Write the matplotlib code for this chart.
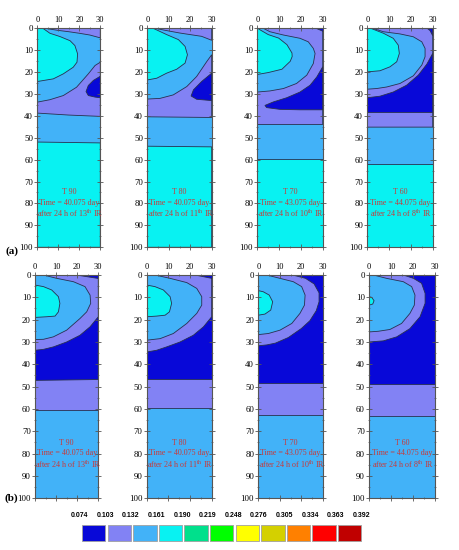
import matplotlib
matplotlib.use("Agg")
import matplotlib.pyplot as plt
from matplotlib.ticker import MultipleLocator

plt.rcParams['font.family'] = ['Liberation Serif', 'DejaVu Serif']
plt.rcParams['mathtext.fontset'] = 'custom'
plt.rcParams['mathtext.rm'] = 'Liberation Serif'

# contour levels and colours of the legend
LEVELS = [0.074, 0.103, 0.132, 0.161, 0.190, 0.219, 0.248, 0.276, 0.305, 0.334, 0.363, 0.392]
COLORS = ['#0808d8', '#8282f4', '#42b2f8', '#08f2f2', '#00e08c', '#00ff00',
          '#ffff00', '#d4d000', '#ff8000', '#ff0000', '#c00000']

# panel captions
T_LABELS = ["T 90", "T 80", "T 70", "T 60"]
DAYS = ["40.075", "40.075", "43.075", "44.075"]
IR_NUM = ["13", "11", "10", "8"]

# each layer: (colour index, x values, depth values) -> closed region, drawn in order
a1_layers = [
    (2, [0, 30, 30, 0], [0, 0, 100, 100]),
    (3, [0, 30, 30, 0], [52, 52.4, 100, 100]),
    (1, [0, 6, 12.4, 18.7, 24.3, 27.5, 30, 30, 15, 0],
        [33.8, 32.7, 30.8, 27, 20.9, 17.1, 15.6, 40.3, 39.7, 38.8]),
    (1, [2.9, 30, 30, 25, 20, 15, 10, 6], [0, 0, 4.5, 3.2, 2.4, 1.7, 1.1, 0.5]),
    (0, [30, 26.7, 24.3, 23.2, 24.3, 27.5, 30], [22, 23.9, 26.2, 29, 30.8, 31.5, 31.8]),
    (3, [0, 2.9, 6, 10.8, 15.6, 17.9, 19.2, 18.9, 17.1, 12.4, 7.6, 0],
        [0, 0.3, 2.4, 3.9, 5.8, 8, 11.8, 15.6, 17.9, 20.9, 23.2, 24.4]),
]
a2_layers = [
    (2, [0, 30, 30, 0], [0, 0, 100, 100]),
    (3, [0, 30, 30, 0], [53.9, 54.2, 100, 100]),
    (1, [0, 5.9, 12.1, 18.4, 23, 27.7, 30, 30, 0],
        [32.4, 32.1, 30.5, 26.7, 22.1, 15.3, 12.2, 40.8, 40.5]),
    (1, [3.1, 30, 30, 25.3, 15.2, 8], [0, 0, 5.6, 3.8, 2.3, 1.0]),
    (0, [30, 25.3, 21.5, 20.4, 23, 30], [20.6, 24.4, 28.2, 31, 32.5, 33.1]),
    (3, [0, 3.1, 9, 14.5, 17.6, 18.7, 17.6, 13.7, 9, 4.4, 0],
        [0, 0.3, 3, 5.3, 8.4, 12.2, 16, 18.8, 20.6, 22.9, 23.7]),
]
a3_layers = [
    (2, [0, 30, 30, 0], [0, 0, 100, 100]),
    (3, [0, 30, 30, 0], [59.7, 59.7, 100, 100]),
    (1, [2.5, 30, 30, 0, 0, 5.8, 12, 18, 22.7, 25.7, 26.5, 25.7, 23.4, 19.6, 12, 5.8],
        [0, 0, 44, 44, 29.2, 28.7, 27.6, 25.3, 21.5, 16.2, 11.6, 9.3, 6.3, 4.7, 3.2, 1.7]),
    (0, [30, 27.3, 24.2, 19.6, 13.5, 7.4, 3.5, 4.3, 10.4, 19.6, 30],
        [17.7, 22.3, 26.1, 29.2, 31.8, 33.7, 35.3, 36.3, 37.1, 37.3, 37.3]),
    (0, [27, 30, 30], [0, 0, 1.2]),
    (3, [0, 1.2, 5, 9.8, 13.6, 15.9, 16, 15.1, 11.3, 5.1, 0],
        [0, 0.8, 3, 4.6, 7.6, 11.4, 13, 15.2, 18.8, 20.3, 21.2]),
]
a4_layers = [
    (2, [0, 30, 30, 0], [0, 0, 100, 100]),
    (3, [0, 30, 30, 0], [62.2, 62.2, 100, 100]),
    (1, [2, 30, 30, 0, 0, 4.3, 8.9, 15, 21.1, 25, 26.5, 26.5, 25, 21.1, 15, 7.4],
        [0, 0, 45.2, 45.2, 27.9, 27.6, 26.9, 25.3, 21.8, 16.9, 13.1, 9.3, 6.3, 4, 2.7, 1.7]),
    (0, [30, 27.3, 23.4, 18, 11.9, 5.8, 0, 0, 30],
        [11.6, 16.5, 21.5, 26.1, 29.2, 31.1, 31.8, 38.5, 38.5]),
    (0, [27.3, 30, 30, 28.8], [0, 0, 3.5, 1.2]),
    (3, [0, 2, 7.4, 11.9, 14.2, 14.7, 13.5, 10.4, 5.8, 0],
        [0, 0.3, 2.4, 4.7, 7.8, 11.6, 15.4, 17.7, 19.5, 20]),
]
b1_layers = [
    (2, [0, 30, 30, 0], [0, 0, 100, 100]),
    (1, [0, 30, 30, 0], [0, 0, 60.4, 60.4]),
    (0, [0, 30, 30, 0], [0, 0, 46.8, 47.2]),
    (1, [0, 30, 30, 26.1, 21.3, 15, 8.7, 4, 0],
        [0, 0, 18.7, 23.2, 27, 30, 32.2, 33.3, 33.7]),
    (2, [0, 4, 10.3, 18.2, 23.7, 26.1, 26.4, 24.5, 21.3, 15, 8.7, 4, 0],
        [0, 0, 1.5, 3, 5.2, 9, 12.7, 16.5, 19.5, 24.7, 27.7, 28.8, 28.9]),
    (0, [21, 30, 30], [0, 0, 1.5]),
    (3, [0, 4, 7.9, 11.1, 11.8, 11.1, 9.5, 5.5, 0],
        [4.5, 5.2, 6.7, 9.7, 12.7, 16.5, 18.4, 18.7, 19]),
]
b2_layers = [
    (2, [0, 30, 30, 0], [0, 0, 100, 100]),
    (1, [0, 30, 30, 0], [0, 0, 59.5, 59.5]),
    (0, [0, 30, 30, 0], [0, 0, 46.5, 46.5]),
    (1, [0, 30, 30, 26.2, 21.5, 15.4, 9.2, 4.6, 0],
        [0, 0, 18.7, 23.2, 27, 30, 32.2, 33.7, 34.5]),
    (2, [0, 3.8, 10.8, 18.5, 23.1, 25.4, 25.4, 23.1, 18.5, 12.3, 6.2, 0],
        [0, 0, 1.5, 3.4, 6, 9.7, 13.5, 17.2, 21.7, 26.2, 28.5, 29.2]),
    (0, [23, 30, 30], [0, 0, 1.5]),
    (3, [0, 3.8, 7.7, 10.8, 11.5, 10.5, 8.5, 4.6, 0],
        [4.5, 5.2, 6.7, 9.7, 12.7, 16.5, 18, 18.4, 18.7]),
]
b3_layers = [
    (2, [0, 30, 30, 0], [0, 0, 100, 100]),
    (1, [0, 30, 30, 0], [0, 0, 62.5, 62.5]),
    (0, [0, 30, 30, 0], [0, 0, 48.3, 48.3]),
    (1, [0, 16, 22, 26, 28.3, 28.3, 27, 24, 20, 14, 8, 4, 0],
        [0, 0, 1.5, 4, 8, 12, 16, 20.5, 24, 28, 30.5, 31.3, 31.7]),
    (2, [0, 3.9, 10.1, 16.3, 20.2, 21.8, 21.5, 19.4, 15.6, 10.1, 4.7, 0],
        [0, 0, 1.5, 3, 5.2, 9, 13.5, 17.2, 21.7, 24.7, 26.2, 26.7]),
    (3, [0, 2.3, 5.1, 6.7, 5.8, 3.1, 0], [7, 7.5, 9, 12, 15.7, 17.5, 18]),
]
b4_layers = [
    (2, [0, 30, 30, 0], [0, 0, 100, 100]),
    (1, [0, 30, 30, 0], [0, 0, 63.3, 63.3]),
    (0, [0, 30, 30, 0], [0, 0, 48.9, 48.9]),
    (1, [0, 15.6, 20.2, 23.9, 25.5, 25.5, 23.2, 18.6, 12.6, 6.5, 0],
        [0, 0, 1.5, 3.7, 8.2, 12.7, 18.7, 24, 27.7, 29.5, 30]),
    (2, [0, 2, 8, 15.6, 19.4, 20.9, 20.6, 18.6, 14.8, 9.5, 4.2, 0],
        [0, 0, 1.5, 3, 5.2, 9, 13.5, 17.2, 21.7, 24.4, 25.2, 25.5]),
    (3, [0, 1.2, 2.3, 1.7, 0], [9.7, 10, 11.5, 13, 13.5]),
]

W, H = 459, 550
fig = plt.figure(figsize=(W / 100, H / 100), dpi=100)


def px_axes(l, t, r, b):
    return fig.add_axes([l / W, 1 - b / H, (r - l) / W, (b - t) / H])


def draw_panel(ax, layers, k, row_text_y):
    for lev, xs, ds in layers:
        ax.fill(xs, ds, facecolor=COLORS[lev], edgecolor='#283050', lw=0.6)
    ax.set_xlim(0, 30)
    ax.set_ylim(100, 0)
    ax.xaxis.set_major_locator(MultipleLocator(10))
    ax.xaxis.set_minor_locator(MultipleLocator(5))
    ax.yaxis.set_major_locator(MultipleLocator(10))
    ax.yaxis.set_minor_locator(MultipleLocator(5))
    ax.tick_params(axis='x', which='both', top=True, bottom=True, labeltop=True,
                   labelbottom=False, direction='inout', labelsize=6, pad=1,
                   color='#555555')
    ax.tick_params(axis='y', which='both', left=True, right=True, direction='inout',
                   labelsize=6.3, pad=1, color='#555555')
    ax.tick_params(which='major', length=4, width=0.6)
    ax.tick_params(which='minor', length=2, width=0.5)
    for s in ax.spines.values():
        s.set_linewidth(0.8)
        s.set_color('#555555')
    red = '#c83a3a'
    y0, y1, y2 = row_text_y
    ax.text(15, y0, T_LABELS[k], ha='center', va='center', color=red, fontsize=5.8)
    ax.text(15, y1, "Time = " + DAYS[k] + " day", ha='center', va='center',
            color=red, fontsize=5.8)
    ax.text(15.5, y2, "after 24 h of " + IR_NUM[k] + r"$^{\rm th}$" + " IR",
            ha='center', va='center', color=red, fontsize=5.8)


row_a = [(37.3, 28, 100.3, 247.3), (147.3, 28, 211.7, 247.3),
         (257.3, 28, 322.7, 247.3), (367.3, 28, 432.7, 247.3)]
row_b = [(35, 275, 98.3, 498.3), (146.7, 275, 211.7, 498.3),
         (258.3, 275, 322.7, 498.3), (369, 275, 435, 498.3)]

for k, (pos, layers) in enumerate(zip(row_a, [a1_layers, a2_layers, a3_layers, a4_layers])):
    draw_panel(px_axes(*pos), layers, k, (75, 79.6, 84.5))
for k, (pos, layers) in enumerate(zip(row_b, [b1_layers, b2_layers, b3_layers, b4_layers])):
    draw_panel(px_axes(*pos), layers, k, (75.4, 79.6, 84.8))

fig.text(12 / W, 1 - 251 / H, "(a)", fontsize=8, fontweight='bold', ha='center', va='center')
fig.text(11 / W, 1 - 498 / H, "(b)", fontsize=8, fontweight='bold', ha='center', va='center')

# legend of colour levels
cax = px_axes(68.1, 505, 375.3, 545)
n = len(COLORS)
cax.bar(range(n), [0.4] * n, bottom=0.1, width=0.92, color=COLORS,
        edgecolor='#a0a0a0', linewidth=0.6)
for i, v in enumerate(LEVELS):
    cax.text(i - 0.55, 0.73, f"{v:.3f}", ha='center', va='center', fontsize=5,
             fontweight='bold', family='Liberation Sans')
cax.set_xlim(-1, 11)
cax.set_ylim(0, 1)
cax.axis('off')

fig.savefig("out.png", dpi=100)
